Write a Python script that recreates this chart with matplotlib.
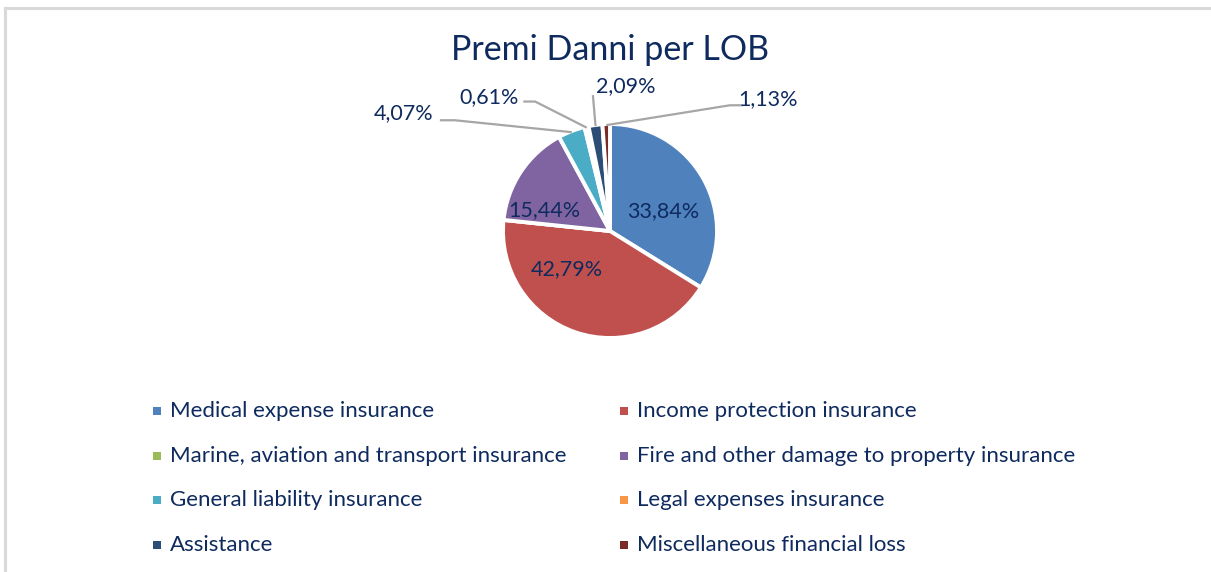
import numpy as np
import matplotlib
matplotlib.use("Agg")
import matplotlib.pyplot as plt
from matplotlib.lines import Line2D
from matplotlib.patches import Rectangle

# ---- data ----
title = "Premi Danni per LOB"
categories = [
    "Medical expense insurance",
    "Income protection insurance",
    "Marine, aviation and transport insurance",
    "Fire and other damage to property insurance",
    "General liability insurance",
    "Legal expenses insurance",
    "Assistance",
    "Miscellaneous financial loss",
]
values = [33.84, 42.79, 0.0, 15.44, 4.07, 0.61, 2.09, 1.13]
colors = ["#4F81BD", "#C0504D", "#9BBB59", "#8064A2",
          "#4BACC6", "#F79646", "#2C4D75", "#772C2A"]

TXT = "#0E2A5E"
FONT = "Lato"

def fmt(v):
    return f"{v:.2f}".replace(".", ",") + "%"

fig = plt.figure(figsize=(12.11, 5.72), dpi=100)
W, H = 1211, 572

# frame lines (top and left)
fig.add_artist(Line2D([5 / W, 1.0], [1 - 7.5 / H, 1 - 7.5 / H], color="#D9D9D9", lw=2.2,
                      transform=fig.transFigure))
fig.add_artist(Line2D([5 / W, 5 / W], [0, 1 - 7.5 / H], color="#D9D9D9", lw=2.2,
                      transform=fig.transFigure))

# pie axes: center (610, 231) px, radius 107 px
cx, cy, R = 610, 231, 107
span = 2.6
ax = fig.add_axes([(cx - span * R) / W, 1 - (cy + span * R) / H, 2 * span * R / W, 2 * span * R / H])

wedges, _ = ax.pie(values, colors=colors, startangle=90, counterclock=False,
                   radius=1.0, wedgeprops=dict(edgecolor="white", linewidth=2.8))
ax.set_xlim(-span, span)
ax.set_ylim(-span, span)
ax.set_aspect("equal")
ax.axis("off")

# label angles
total = sum(values)
cum = 0.0
mids = []
for v in values:
    mid = cum + v / 2
    mids.append(np.deg2rad(90 - 360 * mid / total))
    cum += v

fs_lbl = 15.5
# inside labels: (index, position in pie radius units)
inside = [(0, (0.50, 0.19)), (1, (-0.40, -0.36)), (3, (-0.61, 0.20))]
for i, (lx, ly) in inside:
    ax.text(lx, ly, fmt(values[i]), ha="center", va="center",
            fontsize=fs_lbl, color=TXT, family=FONT)

# outside labels: (index, label center, line start, elbow)
outside = [
    (4, (-1.925, 1.10), (-1.59, 1.035), (-1.45, 1.035)),
    (5, (-1.13, 1.25), (-0.81, 1.21), (-0.70, 1.21)),
    (6, (0.15, 1.35), (-0.16, 1.27), (-0.16, 1.27)),
    (7, (1.48, 1.23), (1.24, 1.175), (1.12, 1.175)),
]
for i, (lx, ly), (sx, sy), (ex, ey) in outside:
    ang = mids[i]
    px, py = 0.99 * np.cos(ang), 0.99 * np.sin(ang)
    ax.plot([sx, ex, px], [sy, ey, py], color="#A6A6A6", lw=1.6, solid_capstyle="butt")
    ax.text(lx, ly, fmt(values[i]), ha="center", va="center",
            fontsize=fs_lbl, color=TXT, family=FONT)

# title
fig.text(cx / W, 1 - 50 / H, title, ha="center", va="center", fontsize=24.5,
         color=TXT, family=FONT)

# legend (manual 2-column grid)
col_x = [157, 624]
row_y = [411, 456, 500, 545]
for k, (name, col) in enumerate(zip(categories, colors)):
    r, c = divmod(k, 2)
    mx, my = col_x[c], row_y[r]
    s = 8
    fig.add_artist(Rectangle(((mx - s / 2) / W, 1 - (my + s / 2) / H), s / W, s / H,
                             transform=fig.transFigure, facecolor=col, edgecolor="none"))
    fig.text((mx + 13) / W, 1 - my / H, name, ha="left", va="center", fontsize=16,
             color=TXT, family=FONT)

fig.savefig("out.png", dpi=100, facecolor="white")
